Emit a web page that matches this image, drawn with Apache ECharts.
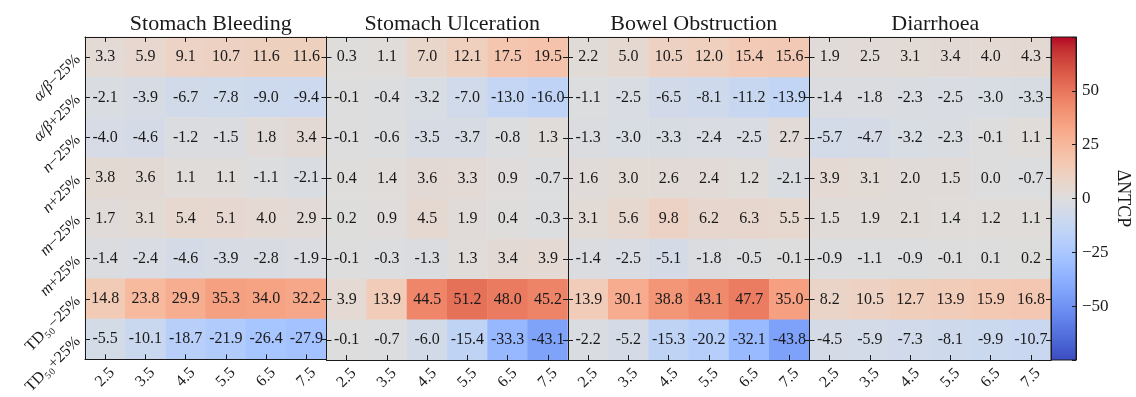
<!DOCTYPE html>
<html>
<head>
<meta charset="utf-8">
<script src="https://cdn.jsdelivr.net/npm/echarts@6/dist/echarts.min.js"></script>
<style>
  html, body { margin: 0; padding: 0; background: #fff; }
  #chart { width: 1136px; height: 397px; }
</style>
</head>
<body>
<div id="chart"></div>
<script>
const doseLabels = ['2.5', '3.5', '4.5', '5.5', '6.5', '7.5'];
const paramLabels = [
  '{i|α/β}−25%', '{i|α/β}+25%', '{i|n}−25%', '{i|n}+25%',
  '{i|m}−25%', '{i|m}+25%', 'TD₅₀−25%', 'TD₅₀+25%',
];
const panelTitles = ['Stomach Bleeding', 'Stomach Ulceration', 'Bowel Obstruction', 'Diarrhoea'];

// rows = parameter change, columns = dose
const stomachBleeding = [
  [3.3, 5.9, 9.1, 10.7, 11.6, 11.6],
  [-2.1, -3.9, -6.7, -7.8, -9.0, -9.4],
  [-4.0, -4.6, -1.2, -1.5, 1.8, 3.4],
  [3.8, 3.6, 1.1, 1.1, -1.1, -2.1],
  [1.7, 3.1, 5.4, 5.1, 4.0, 2.9],
  [-1.4, -2.4, -4.6, -3.9, -2.8, -1.9],
  [14.8, 23.8, 29.9, 35.3, 34.0, 32.2],
  [-5.5, -10.1, -18.7, -21.9, -26.4, -27.9],
];
const stomachUlceration = [
  [0.3, 1.1, 7.0, 12.1, 17.5, 19.5],
  [-0.1, -0.4, -3.2, -7.0, -13.0, -16.0],
  [-0.1, -0.6, -3.5, -3.7, -0.8, 1.3],
  [0.4, 1.4, 3.6, 3.3, 0.9, -0.7],
  [0.2, 0.9, 4.5, 1.9, 0.4, -0.3],
  [-0.1, -0.3, -1.3, 1.3, 3.4, 3.9],
  [3.9, 13.9, 44.5, 51.2, 48.0, 45.2],
  [-0.1, -0.7, -6.0, -15.4, -33.3, -43.1],
];
const bowelObstruction = [
  [2.2, 5.0, 10.5, 12.0, 15.4, 15.6],
  [-1.1, -2.5, -6.5, -8.1, -11.2, -13.9],
  [-1.3, -3.0, -3.3, -2.4, -2.5, 2.7],
  [1.6, 3.0, 2.6, 2.4, 1.2, -2.1],
  [3.1, 5.6, 9.8, 6.2, 6.3, 5.5],
  [-1.4, -2.5, -5.1, -1.8, -0.5, -0.1],
  [13.9, 30.1, 38.8, 43.1, 47.7, 35.0],
  [-2.2, -5.2, -15.3, -20.2, -32.1, -43.8],
];
const diarrhoea = [
  [1.9, 2.5, 3.1, 3.4, 4.0, 4.3],
  [-1.4, -1.8, -2.3, -2.5, -3.0, -3.3],
  [-5.7, -4.7, -3.2, -2.3, -0.1, 1.1],
  [3.9, 3.1, 2.0, 1.5, 0.0, -0.7],
  [1.5, 1.9, 2.1, 1.4, 1.2, 1.1],
  [-0.9, -1.1, -0.9, -0.1, 0.1, 0.2],
  [8.2, 10.5, 12.7, 13.9, 15.9, 16.8],
  [-4.5, -5.9, -7.3, -8.1, -9.9, -10.7],
];
const panels = [stomachBleeding, stomachUlceration, bowelObstruction, diarrhoea];

const cbMin = -75;
const cbMax = 75;
const cbTicks = 25;

// matplotlib coolwarm
const coolwarm = [
  '#3b4cc0', '#445acc', '#4d68d7', '#5775e1', '#6282ea', '#6c8ef1', '#779af7', '#82a5fb',
  '#8db0fe', '#98b9ff', '#a3c2ff', '#aec9fd', '#b8d0f9', '#c2d5f4', '#ccd9ee', '#d5dbe6',
  '#dddddd', '#e5d8d1', '#ecd3c5', '#f1ccb9', '#f5c4ad', '#f7bba0', '#f7b194', '#f7a687',
  '#f49a7b', '#f18d6f', '#ec7f63', '#e57058', '#de604d', '#d55042', '#cb3e38', '#c0282f',
  '#b40426',
];

const font = 'Liberation Serif';
const ink = '#1a1a1a';
const plotLeft = 85;
const plotRight = 1051;
const plotTop = 37;
const plotHeight = 323;
const panelW = (plotRight - plotLeft) / 4;

const tickStyle = { show: true, inside: true, length: 5, alignWithLabel: true, lineStyle: { color: ink, width: 1 } };
const lineStyle = { show: true, lineStyle: { color: ink, width: 1 } };

const grids = [];
const xAxes = [];
const yAxes = [];
const series = [];

panels.forEach((matrix, g) => {
  grids.push({ left: plotLeft + panelW * g, top: plotTop, width: panelW, height: plotHeight });
  xAxes.push({
    type: 'category', gridIndex: g, data: doseLabels, position: 'bottom', z: 10,
    axisLine: lineStyle, axisTick: tickStyle, splitLine: { show: false },
    axisLabel: {
      rotate: 45, align: 'center', verticalAlign: 'middle', margin: 18,
      fontFamily: font, fontSize: 16, color: ink,
    },
  });
  xAxes.push({
    type: 'category', gridIndex: g, data: doseLabels, position: 'top', z: 10,
    axisLine: lineStyle, axisTick: tickStyle, axisLabel: { show: false },
  });
  yAxes.push({
    type: 'category', gridIndex: g, data: paramLabels, inverse: true, position: 'left', z: 10,
    axisLine: lineStyle, axisTick: tickStyle, splitLine: { show: false },
    axisLabel: {
      show: g === 0, rotate: 45, margin: 7,
      fontFamily: font, fontSize: 16, color: ink,
      rich: { i: { fontFamily: font, fontSize: 16, fontStyle: 'italic', color: ink } },
    },
  });
  yAxes.push({
    type: 'category', gridIndex: g, data: paramLabels, inverse: true, position: 'right', z: 10,
    axisLine: lineStyle, axisTick: tickStyle, axisLabel: { show: false },
  });

  const cells = [];
  matrix.forEach((row, r) => row.forEach((v, c) => cells.push([c, r, v])));
  series.push({
    type: 'heatmap', xAxisIndex: 2 * g, yAxisIndex: 2 * g, data: cells,
    label: {
      show: true, fontFamily: font, fontSize: 16, color: ink,
      formatter: (p) => p.value[2].toFixed(1),
    },
    emphasis: { disabled: true },
  });
});

// colorbar
grids.push({ left: plotRight, top: plotTop, width: 25, height: plotHeight });
xAxes.push({
  type: 'category', gridIndex: 4, data: ['cb'],
  axisLine: { show: false }, axisTick: { show: false }, axisLabel: { show: false },
});
yAxes.push({
  type: 'value', gridIndex: 4, min: cbMin, max: cbMax, interval: cbTicks, position: 'right', z: 10,
  splitLine: { show: false },
  axisLine: lineStyle,
  axisTick: { show: true, inside: true, length: 4, lineStyle: { color: ink } },
  axisLabel: {
    margin: 6, fontFamily: font, fontSize: 17, color: ink,
    formatter: (v) => (Math.abs(v) >= cbMax ? '' : String(v).replace('-', '−')),
  },
  name: 'ΔNTCP', nameLocation: 'middle', nameRotate: -90, nameGap: 38,
  nameTextStyle: { fontFamily: font, fontSize: 18, color: ink },
});
const cbStops = coolwarm.map((c, i) => ({
  offset: i / (coolwarm.length - 1),
  color: coolwarm[coolwarm.length - 1 - i],
}));
series.push({
  type: 'custom', xAxisIndex: 8, yAxisIndex: 8, data: [[0, cbMin, cbMax]],
  silent: true,
  renderItem: (params, api) => {
    const top = api.coord([api.value(0), api.value(2)]);
    const bottom = api.coord([api.value(0), api.value(1)]);
    const w = api.size([1, 0])[0];
    return {
      type: 'rect',
      shape: { x: top[0] - w / 2, y: top[1], width: w, height: bottom[1] - top[1] },
      style: { fill: new echarts.graphic.LinearGradient(0, 0, 0, 1, cbStops), stroke: ink, lineWidth: 1 },
    };
  },
});

const chart = echarts.init(document.getElementById('chart'), null, { renderer: 'canvas' });
chart.setOption({
  animation: false,
  backgroundColor: '#fff',
  title: panelTitles.map((t, i) => ({
    text: t, left: plotLeft + panelW * (i + 0.5), top: 8, textAlign: 'center',
    textStyle: { fontFamily: font, fontSize: 22, fontWeight: 'normal', color: ink },
  })),
  grid: grids,
  xAxis: xAxes,
  yAxis: yAxes,
  visualMap: {
    type: 'continuous', show: false, min: cbMin, max: cbMax,
    seriesIndex: [0, 1, 2, 3], inRange: { color: coolwarm },
  },
  series: series,
});
</script>
</body>
</html>
